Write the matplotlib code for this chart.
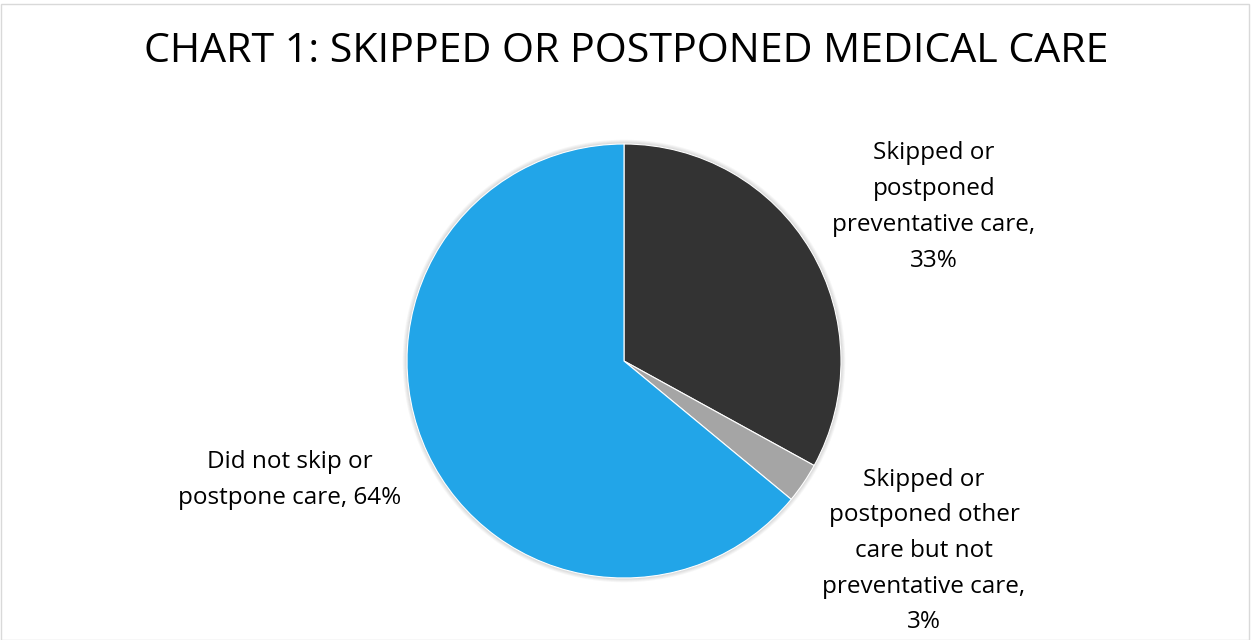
import matplotlib.pyplot as plt
from matplotlib.patches import Circle, Rectangle

# slice data, clockwise from 12 o'clock
labels = ['Skipped or\npostponed\npreventative care,',
          'Skipped or\npostponed other\ncare but not\npreventative care,',
          'Did not skip or\npostpone care,']
values = [33, 3, 64]
colors = ['#333333', '#A5A5A5', '#22A5E8']
title = 'CHART 1: SKIPPED OR POSTPONED MEDICAL CARE'

plt.rcParams['font.family'] = ['Open Sans', 'DejaVu Sans']

W, H = 1251, 640
fig = plt.figure(figsize=(W / 100, H / 100), dpi=100)
fig.patch.set_facecolor('white')

# thin frame round the chart area
fig.add_artist(Rectangle((0.5 / W, 0.5 / H), 1 - 2.5 / W, 1 - 4.5 / H,
                         transform=fig.transFigure, fill=False,
                         edgecolor='#D9D9D9', linewidth=1))

fig.text(626 / W, 1 - 52 / H, title, ha='center', va='center',
         fontsize=29.6, color='#000000')

cx, cy, r = 624, 361, 217
ax = fig.add_axes([(cx - r) / W, (H - cy - r) / H, 2 * r / W, 2 * r / H])

# soft shadow behind the pie
for i in range(5):
    ax.add_patch(Circle((0, 0), 1 + 0.004 * (i + 1), color='#000000',
                        alpha=0.03, lw=0, zorder=0, clip_on=False))

wedges, _ = ax.pie(values, colors=colors, startangle=90, counterclock=False,
                   radius=1, wedgeprops=dict(edgecolor='white', linewidth=0.8))
for w in wedges:
    w.set_zorder(2)

ax.set_xlim(-1, 1)
ax.set_ylim(-1, 1)
ax.set_aspect('equal')
ax.axis('off')

# label positions in data units (pie radius = 1)
pos = [((934 - cx) / r, (cy - 207) / r),
       ((924 - cx) / r, (cy - 551) / r),
       ((290 - cx) / r, (cy - 480) / r)]
for (x, y), lab, v in zip(pos, labels, values):
    txt = lab + (' ' if lab.startswith('Did') else '\n') + f'{v}%'
    ax.text(x, y, txt, ha='center', va='center', fontsize=17.5,
            color='#000000', linespacing=1.65, clip_on=False)

fig.savefig('out.png', dpi=100)
